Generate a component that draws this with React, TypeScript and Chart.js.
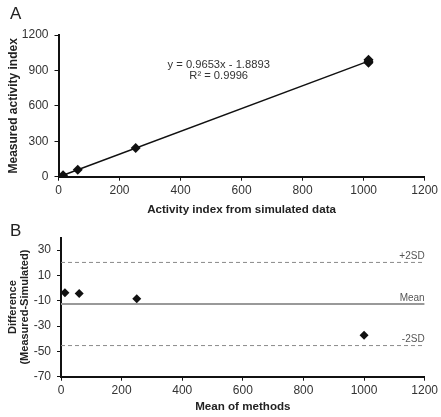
import React, { useEffect, useRef } from "react";
import { Chart, registerables } from "chart.js";
Chart.register(...registerables);

// Panel A data
const simulated = [15, 63, 253, 1016, 1016, 1016];
const measured = [12, 59, 243, 965, 978, 990];
const slope = 0.9653;
const intercept = -1.8893;
const eqLines = ["y = 0.9653x - 1.8893", "R² = 0.9996"];
const eqPos = [525, 955];
const aXTicks = [0, 200, 400, 600, 800, 1000, 1200];
const aYTicks = [0, 300, 600, 900, 1200];

// Panel B data
const meanOfMethods = [13, 60, 250, 1000];
const difference = [-3.6, -4.2, -8.5, -37.3];
const meanDiff = -12.5;
const plus2SD = 20.3;
const minus2SD = -45.4;
const limitLabels = ["+2SD", "Mean", "-2SD"];
const bXTicks = [0, 200, 400, 600, 800, 1000, 1200];
const bYTicks = [-70, -50, -30, -10, 10, 30];
const bYRange = [-70, 40];

const FONT = "'Liberation Sans', Arial, Helvetica, sans-serif";

function axis(min: number, max: number, ticks: number[], title: string | string[], opts: any) {
  return {
    type: "linear",
    min,
    max,
    afterBuildTicks: (s: any) => {
      s.ticks = ticks.map((v) => ({ value: v }));
    },
    afterFit: (s: any) => {
      if (opts.width !== undefined) s.width = opts.width;
      if (opts.height !== undefined) s.height = opts.height;
    },
    border: { display: true, color: "#111", width: 2 },
    grid: { drawOnChartArea: false, drawTicks: true, tickLength: 4, color: "#111", lineWidth: 1 },
    ticks: {
      autoSkip: false,
      maxRotation: 0,
      padding: opts.tickPad,
      color: "#333",
      font: { family: FONT, size: 12 },
      callback: (v: any) => String(v),
    },
    title: {
      display: true,
      text: title,
      color: "#222",
      font: { family: FONT, size: opts.titleSize, weight: "bold", lineHeight: 1.1 },
      padding: opts.titlePad,
    },
  };
}

const panelLabel = (text: string, x: number, y: number) => ({
  id: "panelLabel" + text,
  afterDraw(chart: any) {
    const ctx = chart.ctx;
    ctx.save();
    ctx.fillStyle = "#222";
    ctx.font = `17px ${FONT}`;
    ctx.textAlign = "left";
    ctx.textBaseline = "alphabetic";
    ctx.fillText(text, x, y);
    ctx.restore();
  },
});

const equationPlugin = {
  id: "equation",
  afterDatasetsDraw(chart: any) {
    const ctx = chart.ctx;
    const xs = chart.scales.x;
    const ys = chart.scales.y;
    const px = xs.getPixelForValue(eqPos[0]);
    const py = ys.getPixelForValue(eqPos[1]);
    ctx.save();
    ctx.fillStyle = "#333";
    ctx.font = `11.2px ${FONT}`;
    ctx.textAlign = "center";
    ctx.textBaseline = "middle";
    eqLines.forEach((t, i) => ctx.fillText(t, px, py + 1 + i * 11));
    ctx.restore();
  },
};

const limitLabelPlugin = {
  id: "limitLabels",
  afterDatasetsDraw(chart: any) {
    const ctx = chart.ctx;
    const ys = chart.scales.y;
    const right = chart.chartArea.right;
    const vals = [plus2SD, meanDiff, minus2SD];
    ctx.save();
    ctx.fillStyle = "#555";
    ctx.font = `10px ${FONT}`;
    ctx.textAlign = "right";
    ctx.textBaseline = "bottom";
    vals.forEach((v, i) => ctx.fillText(limitLabels[i], right, ys.getPixelForValue(v) - 1));
    ctx.restore();
  },
};

export default function App() {
  const refA = useRef<HTMLCanvasElement>(null);
  const refB = useRef<HTMLCanvasElement>(null);

  useEffect(() => {
    const xMin = Math.min(...simulated);
    const xMax = Math.max(...simulated);
    const chartA = new Chart(refA.current!, {
      type: "scatter",
      data: {
        datasets: [
          {
            type: "line",
            data: [
              { x: xMin, y: slope * xMin + intercept },
              { x: xMax, y: slope * xMax + intercept },
            ],
            borderColor: "#111",
            borderWidth: 1.5,
            pointRadius: 0,
            fill: false,
          } as any,
          {
            data: simulated.map((x, i) => ({ x, y: measured[i] })),
            pointStyle: "rectRot",
            pointRadius: 5,
            backgroundColor: "#111",
            borderColor: "#111",
            borderWidth: 0,
          },
        ],
      },
      options: {
        responsive: false,
        animation: false,
        layout: { padding: { top: 35, right: 13, left: 0, bottom: 0 } },
        plugins: { legend: { display: false }, tooltip: { enabled: false } },
        scales: {
          x: axis(0, 1200, aXTicks, "Activity index from simulated data", {
            height: 43.3,
            tickPad: 3,
            titleSize: 11.6,
            titlePad: { top: 0, bottom: 3.5 },
          }),
          y: axis(0, 1200, aYTicks, "Measured activity index", {
            width: 58.5,
            tickPad: 6,
            titleSize: 12,
            titlePad: { top: 7.5, bottom: 0 },
          }),
        } as any,
      },
      plugins: [panelLabel("A", 10, 19), equationPlugin],
    });

    const chartB = new Chart(refB.current!, {
      type: "scatter",
      data: {
        datasets: [
          {
            type: "line",
            data: [
              { x: 0, y: plus2SD },
              { x: 1200, y: plus2SD },
            ],
            borderColor: "#8a8a8a",
            borderWidth: 1,
            borderDash: [4, 3],
            pointRadius: 0,
          } as any,
          {
            type: "line",
            data: [
              { x: 0, y: meanDiff },
              { x: 1200, y: meanDiff },
            ],
            borderColor: "#999",
            borderWidth: 2,
            pointRadius: 0,
          } as any,
          {
            type: "line",
            data: [
              { x: 0, y: minus2SD },
              { x: 1200, y: minus2SD },
            ],
            borderColor: "#8a8a8a",
            borderWidth: 1,
            borderDash: [4, 3],
            pointRadius: 0,
          } as any,
          {
            data: meanOfMethods.map((x, i) => ({ x, y: difference[i] })),
            pointStyle: "rectRot",
            pointRadius: 4.5,
            backgroundColor: "#111",
            borderColor: "#111",
            borderWidth: 0,
          },
        ],
      },
      options: {
        responsive: false,
        animation: false,
        layout: { padding: { top: 17.5, right: 13, left: 0, bottom: 0 } },
        plugins: { legend: { display: false }, tooltip: { enabled: false } },
        scales: {
          x: axis(0, 1200, bXTicks, "Mean of methods", {
            height: 40.3,
            tickPad: 3,
            titleSize: 11.6,
            titlePad: { top: 0, bottom: 3.5 },
          }),
          y: axis(bYRange[0], bYRange[1], bYTicks, ["Difference", "(Measured-Simulated)"], {
            width: 61,
            tickPad: 6,
            titleSize: 11,
            titlePad: { top: 7, bottom: 0 },
          }),
        } as any,
      },
      plugins: [panelLabel("B", 10, 16), limitLabelPlugin],
    });

    return () => {
      chartA.destroy();
      chartB.destroy();
    };
  }, []);

  return (
    <div style={{ position: "absolute", left: 0, top: 0, width: 441, height: 417, background: "#fff" }}>
      <canvas ref={refA} width={441} height={220} style={{ position: "absolute", left: 0, top: 0 }} />
      <canvas ref={refB} width={441} height={197} style={{ position: "absolute", left: 0, top: 220 }} />
    </div>
  );
}
